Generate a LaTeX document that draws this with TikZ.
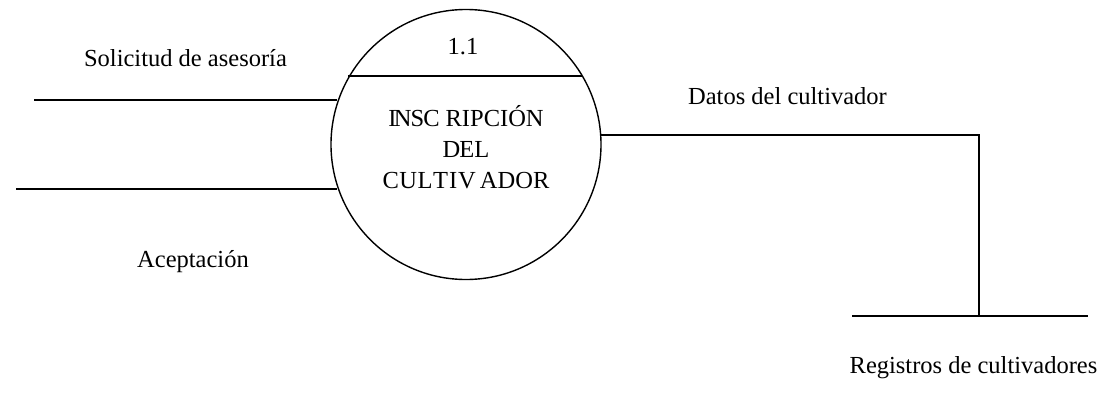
\documentclass[tikz,border=0pt]{standalone}
\usepackage{fontspec}
\setmainfont{Liberation Serif}
\begin{document}
\begin{tikzpicture}[x=1pt,y=-1pt,
  ln/.style={draw=black,line width=1.7pt},
  lbl/.style={inner sep=0pt,anchor=base,font=\fontsize{24.5}{28}\selectfont,text=black}]
\useasboundingbox[fill=white] (0,0) rectangle (1106,405);
\node[circle,draw=black,line width=1.4pt,minimum size=270pt,inner sep=0pt] (proc) at (466,144.5) {};
\coordinate (chl) at (348,76);
\coordinate (chr) at (582,76);
\draw[ln] (chl) -- (chr);
\node[lbl] (num) at (463,54) {1.1};
\node[lbl] (name1) at (466,126) {I\kern-2.5ptN\kern-1ptS\kern-1ptC\kern6ptRIPCIÓN};
\node[lbl] (name2) at (466,157) {D\kern-1ptEL};
\node[lbl] (name3) at (466,188) {C\kern.5ptU\kern.5ptL\kern.5ptT\kern1ptI\kern1ptV\kern4ptADOR};
\coordinate (a1) at (34,100);
\coordinate (a2) at (337,100);
\coordinate (b1) at (16,189);
\coordinate (b2) at (337,189);
\draw[ln] (a1) -- (a2);
\draw[ln] (b1) -- (b2);
\coordinate (c1) at (601,135);
\coordinate (c2) at (979,135);
\coordinate (c3) at (979,316);
\draw[ln] (c1) -- (c2) -- (c3);
\coordinate (s1) at (852,316);
\coordinate (s2) at (1088,316);
\draw[ln] (s1) -- (s2);
\node[lbl] (t1) at (185.5,66) {Solicitud de asesoría};
\node[lbl] (t2) at (193,267) {Aceptación};
\node[lbl] (t3) at (787.5,104) {Datos del cultivador};
\node[lbl] (t4) at (973.5,373) {Registros de cultivadores};
\end{tikzpicture}
\end{document}
